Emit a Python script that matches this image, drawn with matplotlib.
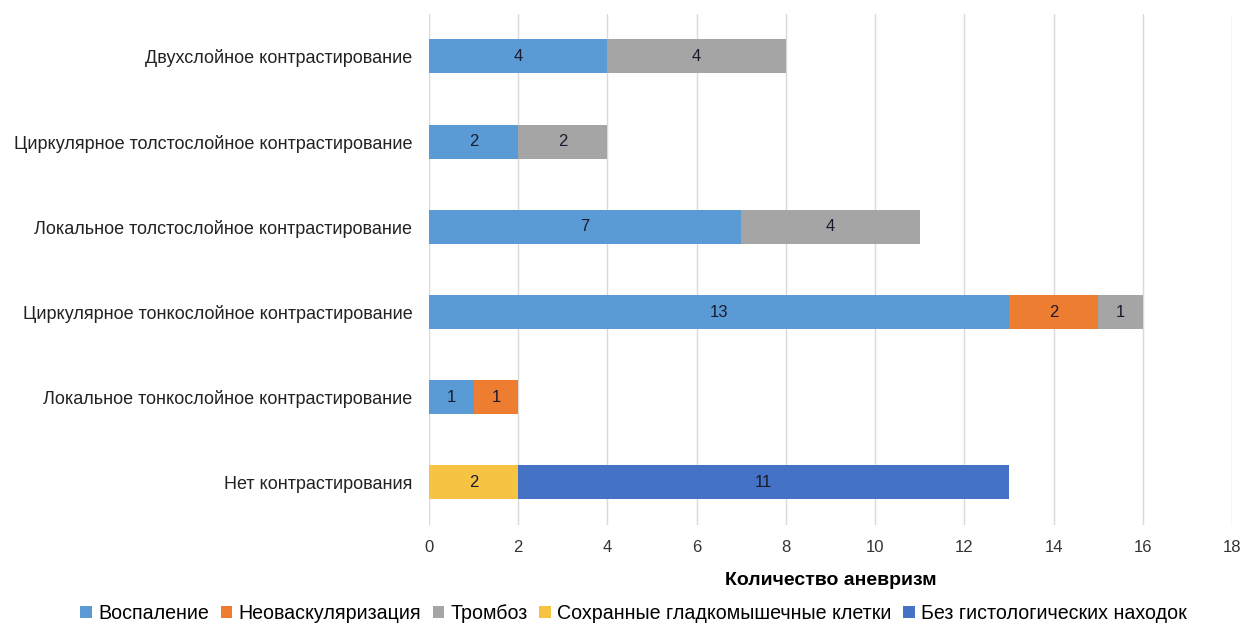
import numpy as np
import matplotlib.pyplot as plt
from matplotlib.patches import Patch

plt.rcParams['font.family'] = ['Liberation Sans', 'DejaVu Sans']

categories = ['Нет контрастирования',
              'Локальное тонкослойное контрастирование',
              'Циркулярное тонкослойное контрастирование',
              'Локальное толстослойное контрастирование',
              'Циркулярное толстослойное контрастирование',
              'Двухслойное контрастирование']
series_names = ['Воспаление', 'Неоваскуляризация', 'Тромбоз',
                'Сохранные гладкомышечные клетки', 'Без гистологических находок']
inflammation = [0, 1, 13, 7, 2, 4]
neovasc = [0, 1, 2, 0, 0, 0]
thrombosis = [0, 0, 1, 4, 2, 4]
smooth_muscle = [2, 0, 0, 0, 0, 0]
no_findings = [11, 0, 0, 0, 0, 0]
colors = ['#5B9BD5', '#ED7D31', '#A5A5A5', '#F7C343', '#4472C4']

fig = plt.figure(figsize=(12.42, 6.28), dpi=100)
ax = fig.add_axes([0.3454, 0.164, 0.6466, 0.814])

y = np.arange(len(categories))
left = np.zeros(len(categories))
for name, vals, col in zip(series_names,
                           [inflammation, neovasc, thrombosis, smooth_muscle, no_findings],
                           colors):
    vals = np.array(vals, dtype=float)
    bars = ax.barh(y, vals, left=left, height=0.4, color=col, zorder=3)
    for b, v in zip(bars, vals):
        if v > 0:
            ax.text(b.get_x() + b.get_width() / 2, b.get_y() + b.get_height() / 2,
                    '%d' % v, ha='center', va='center', fontsize=12, color='#1a1a2e', zorder=4)
    left += vals

ax.set_xlim(0, 18)
ax.set_ylim(-0.5, len(categories) - 0.5)
ax.set_xticks(np.arange(0, 19, 2))
ax.set_yticks(y)
ax.set_yticklabels(categories, fontsize=13)
ax.tick_params(axis='x', labelsize=12, length=0, pad=11, colors='#333333')
ax.tick_params(axis='y', length=0, pad=12, colors='#222222')
ax.grid(axis='x', color='#d9d9d9', linewidth=1, zorder=0)
for s in ax.spines.values():
    s.set_visible(False)
ax.set_xlabel('Количество аневризм', fontsize=14, fontweight='bold', labelpad=12)

handles = [Patch(facecolor=c, label=n) for n, c in zip(series_names, colors)]
fig.legend(handles=handles, loc='center', bbox_to_anchor=(0.51, 0.023), ncol=5,
           frameon=False, fontsize=14.1, handlelength=0.6, handleheight=0.6,
           handletextpad=0.3, columnspacing=0.6)

fig.savefig('out.png', dpi=100)
